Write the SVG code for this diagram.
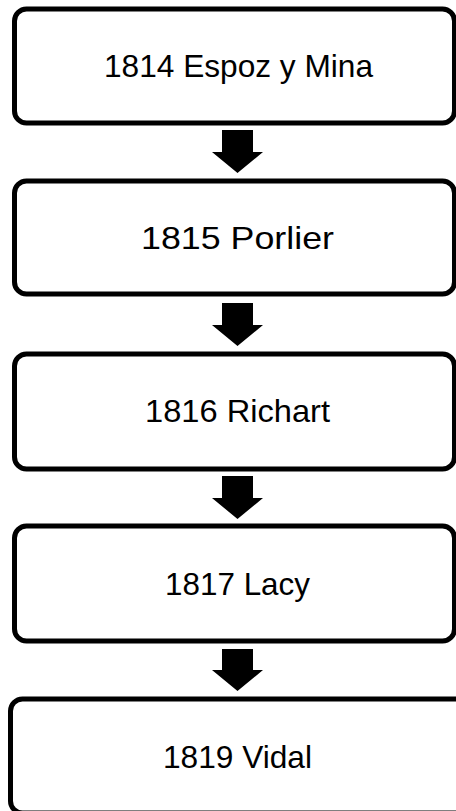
<svg xmlns="http://www.w3.org/2000/svg" width="456" height="811" viewBox="0 0 456 811">
<style>
.box{fill:#fff;stroke:#000;stroke-width:5}
.lbl{font-family:"Liberation Sans",Arial,sans-serif;font-size:32px;fill:#000;text-anchor:middle}
.arr{fill:#000}
</style>
<rect width="456" height="811" fill="#fff"/>
<g id="n1"><rect class="box" x="14.5" y="9" width="440" height="114" rx="12"/><text class="lbl" x="238.5" y="77" textLength="269" lengthAdjust="spacingAndGlyphs">1814 Espoz y Mina</text></g>
<g id="n2"><rect class="box" x="14.5" y="181" width="440" height="113" rx="12"/><text class="lbl" x="237.5" y="249" textLength="193" lengthAdjust="spacingAndGlyphs">1815 Porlier</text></g>
<g id="n3"><rect class="box" x="14.5" y="354" width="440" height="115" rx="12"/><text class="lbl" x="237.5" y="422" textLength="185" lengthAdjust="spacingAndGlyphs">1816 Richart</text></g>
<g id="n4"><rect class="box" x="14.5" y="526" width="440" height="115" rx="12"/><text class="lbl" x="237.5" y="595" textLength="145" lengthAdjust="spacingAndGlyphs">1817 Lacy</text></g>
<g id="n5"><rect class="box" x="10.5" y="699" width="460" height="114" rx="12"/><text class="lbl" x="237.5" y="768" textLength="149" lengthAdjust="spacingAndGlyphs">1819 Vidal</text></g>
<g id="connectors">
<polygon class="arr" points="222,130 253,130 253,152 263,152 237.5,173 212,152 222,152"/>
<polygon class="arr" points="222,303 253,303 253,325 263,325 237.5,346 212,325 222,325"/>
<polygon class="arr" points="222,476 253,476 253,498 263,498 237.5,519 212,498 222,498"/>
<polygon class="arr" points="222,649 253,649 253,670 263,670 237.5,691 212,670 222,670"/>
</g>
</svg>
